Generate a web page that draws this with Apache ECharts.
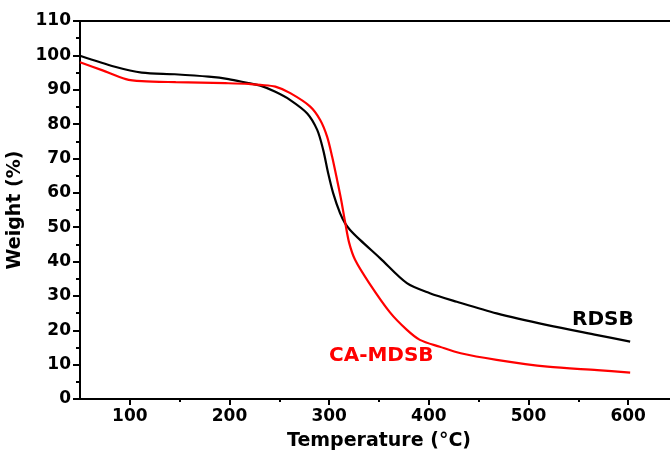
<!DOCTYPE html>
<html>
<head>
<meta charset="utf-8">
<script src="https://cdn.jsdelivr.net/npm/echarts@6/dist/echarts.min.js"></script>
<style>html,body{margin:0;padding:0;background:#fff}#c{width:670px;height:453px}</style>
</head>
<body>
<div id="c"></div>
<script>
// RDSB (black)
const rdsbT = [50, 85, 112, 145, 179, 199, 219, 231, 246, 261, 278, 288, 294, 299, 304, 311, 316, 321, 331, 351, 378, 401, 428, 468, 519, 569, 602];
const rdsbW = [99.9, 96.7, 95.0, 94.5, 93.8, 93.1, 91.9, 91.2, 89.4, 87.0, 83.1, 78.3, 72.5, 65.7, 59.9, 54.0, 51.1, 49.2, 46.3, 41.0, 33.7, 30.8, 28.3, 24.9, 21.5, 18.6, 16.7];
// CA-MDSB (red)
const camT = [50, 72, 96, 112, 146, 196, 219, 231, 246, 261, 281, 291, 298, 303, 308, 312, 316, 320, 326, 340, 361, 378, 391, 411, 432, 468, 519, 569, 602];
const camW = [98.0, 95.7, 93.1, 92.5, 92.2, 91.9, 91.7, 91.4, 90.9, 89.0, 85.1, 81.2, 76.3, 70.5, 63.7, 58.0, 51.5, 45.5, 40.5, 33.8, 25.2, 20.1, 17.2, 15.2, 13.3, 11.4, 9.4, 8.4, 7.7];
const xMajorTicks = [100, 200, 300, 400, 500, 600];
const xMinorTicks = [150, 250, 350, 450, 550];
const seriesNames = ['RDSB', 'CA-MDSB'];

const pair = (xs, ys) => xs.map((x, i) => [x, ys[i]]);
const FONT = 'DejaVu Sans';
const chart = echarts.init(document.getElementById('c'), null, {renderer: 'canvas'});
chart.setOption({
  backgroundColor: '#ffffff',
  animation: false,
  grid: {left: 80, right: -8, top: 21, bottom: 54, containLabel: false, outerBoundsMode: 'none',
         show: true, borderColor: '#000', borderWidth: 2, backgroundColor: 'transparent'},
  xAxis: [{
    type: 'value', min: 50, max: 650, interval: 50,
    name: 'Temperature (°C)', nameLocation: 'middle', nameGap: 33,
    nameTextStyle: {fontFamily: FONT, fontWeight: 'bold', fontSize: 19, color: '#000'},
    axisLine: {show: true, lineStyle: {color: '#000', width: 2}},
    axisTick: {show: true, customValues: xMajorTicks, length: 6, inside: false, lineStyle: {color: '#000', width: 2}},
    axisLabel: {customValues: xMajorTicks, fontFamily: FONT, fontWeight: 'bold', fontSize: 17, color: '#000', margin: 9},
    splitLine: {show: false}
  }, {
    type: 'value', min: 50, max: 650, interval: 50, position: 'bottom', gridIndex: 0,
    axisLine: {show: false},
    axisTick: {show: true, customValues: xMinorTicks, length: 3, lineStyle: {color: '#000', width: 2}},
    axisLabel: {show: false},
    splitLine: {show: false}
  }],
  yAxis: {
    type: 'value', min: 0, max: 110, interval: 10,
    name: 'Weight (%)', nameLocation: 'middle', nameGap: 50,
    nameTextStyle: {fontFamily: FONT, fontWeight: 'bold', fontSize: 19, color: '#000'},
    axisLine: {show: true, lineStyle: {color: '#000', width: 2}},
    axisTick: {show: true, length: 7, lineStyle: {color: '#000', width: 2}},
    minorTick: {show: true, splitNumber: 2, length: 4, lineStyle: {color: '#000', width: 2}},
    axisLabel: {fontFamily: FONT, fontWeight: 'bold', fontSize: 17, color: '#000', margin: 9},
    splitLine: {show: false}, minorSplitLine: {show: false}
  },
  series: [{
    name: seriesNames[0], type: 'line', data: pair(rdsbT, rdsbW), smooth: 0.3, showSymbol: false,
    lineStyle: {color: '#000', width: 2.2}, z: 3
  }, {
    name: seriesNames[1], type: 'line', data: pair(camT, camW), smooth: 0.3, showSymbol: false,
    lineStyle: {color: '#ff0000', width: 2.2}, z: 4
  }],
  graphic: [
    {type: 'text', left: 572, top: 310, style: {text: seriesNames[0], font: 'bold 20px "DejaVu Sans"', fill: '#000'}},
    {type: 'text', left: 329, top: 346, style: {text: seriesNames[1], font: 'bold 20px "DejaVu Sans"', fill: '#ff0000'}}
  ]
});
</script>
</body>
</html>
